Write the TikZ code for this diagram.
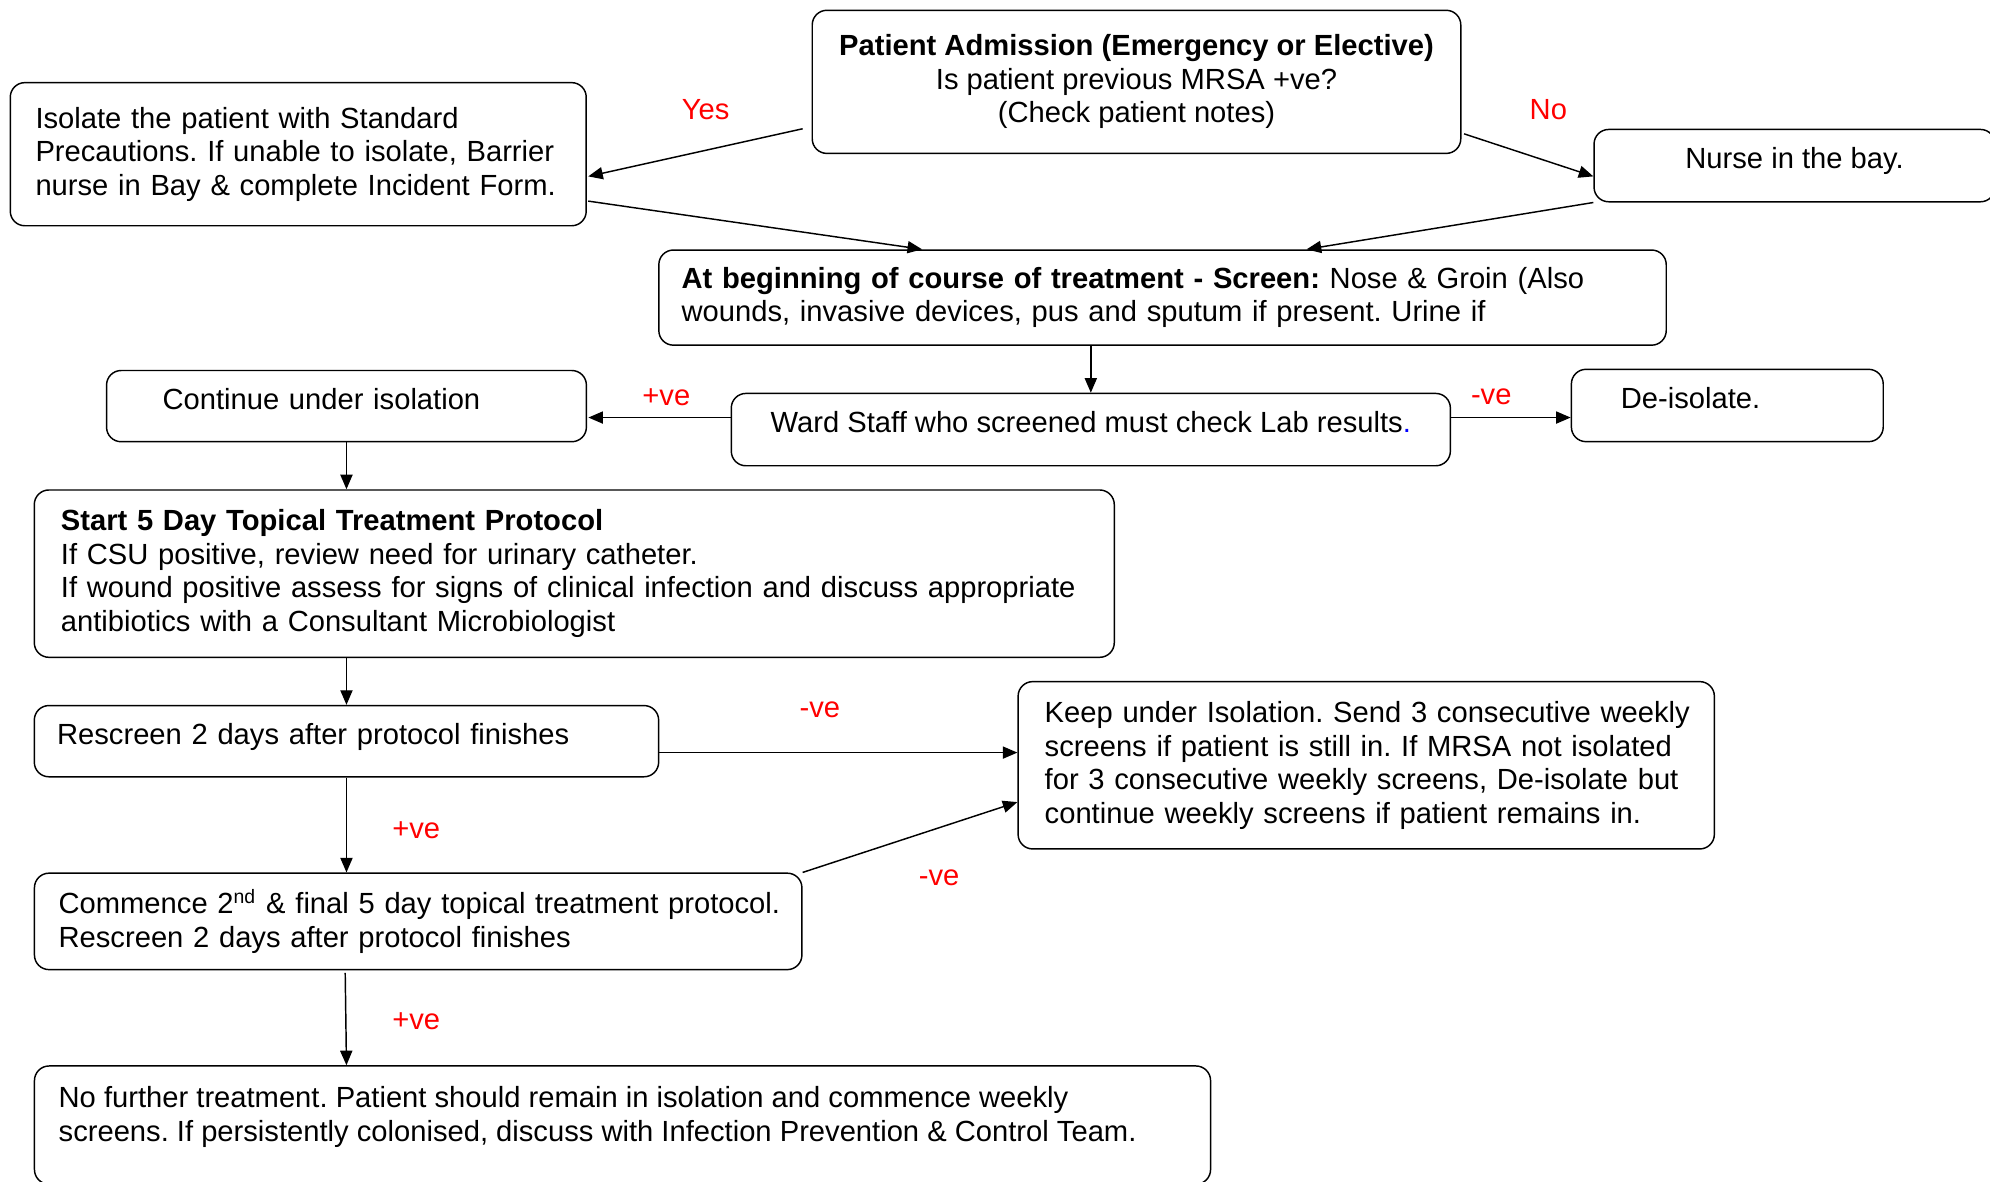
\documentclass[tikz,border=0pt]{standalone}
\usepackage{fontspec}
\setmainfont{Liberation Sans}
\usepackage{tikz}
\usetikzlibrary{arrows.meta,positioning,calc}
\definecolor{ink}{HTML}{000000}
\definecolor{markred}{HTML}{FF0000}
\definecolor{dotblue}{HTML}{0000FF}
\frenchspacing
\tikzset{
  box/.style={rectangle, rounded corners=6pt, draw=ink, fill=white, line width=0.6pt,
              align=left, inner sep=0pt, font=\fontsize{12pt}{13.8pt}\selectfont},
  cbox/.style={box, align=center},
  oneline/.style={text height=8.6pt, text depth=6.2pt},
  lbl/.style={font=\fontsize{12pt}{13.8pt}\selectfont, text=markred, inner sep=1pt},
  flow/.style={-{Triangle[length=6pt,width=5pt]}, draw=ink, line width=0.6pt}
}
\begin{document}
\begin{tikzpicture}[x=0.01835cm, y=-0.01835cm]
 \useasboundingbox (0,0) rectangle (1568,931);
 \clip (0,0) rectangle (1568,931);
 % top row
 \node[cbox, minimum width=9.38cm, minimum height=2.07cm] (adm) at (895.5,64.5)
   {\textbf{Patient Admission (Emergency or Elective)}\\Is patient previous MRSA +ve?\\(Check patient notes)};
 \node[box, text width=7.60cm, minimum width=8.33cm, minimum height=2.07cm, yshift=0pt] (iso) at (235,121.5)
   {Isolate the patient with Standard\\\mbox{Precautions. If unable to isolate, Barrier}\\nurse in Bay \& complete Incident Form.};
 \node[cbox, oneline, minimum width=5.80cm, minimum height=1.046cm] (nurse) at (1414,130.5) {Nurse in the bay.};
 \node[box, text width=13.91cm, minimum width=14.57cm, minimum height=1.376cm] (scr) at (916,234.5)
   {\mbox{\textbf{At beginning of course of treatment - Screen:} Nose \& Groin (Also}\\wounds, invasive devices, pus and sputum if present. Urine if};
 % lab results
 \node[box, oneline, text width=5.32cm, minimum width=6.94cm, minimum height=1.03cm] (cont) at (273,320) {Continue under isolation};
 \node[cbox, oneline, minimum width=10.40cm, minimum height=1.046cm] (ward) at (859.5,338.5)
   {Ward Staff who screened must check Lab results\textcolor{dotblue}{.}};
 \node[box, oneline, text width=3.08cm, minimum width=4.51cm, minimum height=1.046cm] (deiso) at (1361,319.5) {De-isolate.};
 % treatment
 \node[box, text width=14.85cm, minimum width=15.62cm, minimum height=2.42cm] (start) at (452.5,452)
   {\textbf{Start 5 Day Topical Treatment Protocol}\\If CSU positive, review need for urinary catheter.\\
    \mbox{If wound positive assess for signs of clinical infection and discuss appropriate}\\antibiotics with a Consultant Microbiologist};
 \node[box, oneline, text width=8.37cm, minimum width=9.03cm, minimum height=1.03cm] (resc) at (273,584) {Rescreen 2 days after protocol finishes};
 \node[box, text width=9.30cm, minimum width=10.07cm, minimum height=2.42cm] (keep) at (1076.5,603)
   {\mbox{Keep under Isolation. Send 3 consecutive weekly}\\\mbox{screens if patient is still in. If MRSA not isolated}\\
    \mbox{for 3 consecutive weekly screens, De-isolate but}\\\mbox{continue weekly screens if patient remains in.}};
 \node[box, text width=10.40cm, minimum width=11.10cm, minimum height=1.395cm] (comm) at (329.5,726)
   {\mbox{Commence 2\textsuperscript{nd} \& final 5 day topical treatment protocol.}\\Rescreen 2 days after protocol finishes};
 \node[box, minimum width=17.01cm, minimum height=1.71cm, inner ysep=0.30cm] (nofur) at (490.5,886.5)
   {\parbox[c][1.11cm][t]{16.31cm}{\raggedright No further treatment. Patient should remain in isolation and commence weekly\\
    \mbox{screens. If persistently colonised, discuss with Infection Prevention \& Control Team.}}};
 % labels
 \node[lbl] (lyes) at (556,86) {Yes};
 \node[lbl] (lno) at (1220,86) {No};
 \node[lbl] (lpos1) at (525,313) {+ve};
 \node[lbl] (lneg1) at (1175,313) {-ve};
 \node[lbl] (lneg2) at (646,559) {-ve};
 \node[lbl] (lpos2) at (328,654) {+ve};
 \node[lbl] (lneg3) at (740,692) {-ve};
 \node[lbl] (lpos3) at (328,805) {+ve};
 % connectors
 \draw[flow]([shift={(-7,-20)}]adm.south west)--([shift={(1,17.5)}]iso.east);
 \draw[flow]([shift={(2,-16)}]adm.south east)--([shift={(0,8.5)}]nurse.west);
 \draw[flow]([shift={(1,-20)}]iso.south east)--([shift={(208,0)}]scr.north west);
 \draw[flow](nurse.south west)--([shift={(511,0)}]scr.north west);
 \draw[flow](scr.south -| ward.north)--(ward.north);
 \draw[flow]([shift={(0,-9.5)}]ward.west)--([shift={(1,9)}]cont.east);
 \draw[flow]([shift={(0,-9.5)}]ward.east)--([shift={(0,9.5)}]deiso.west);
 \draw[flow](cont.south)--(cont.south |- start.north);
 \draw[flow](resc.north |- start.south)--(resc.north);
 \draw[flow]([shift={(0,9)}]resc.east)--([shift={(0,-10)}]keep.west);
 \draw[flow](resc.south)--(resc.south |- comm.north);
 \draw[flow](comm.north east)--([shift={(0,29)}]keep.west);
 \draw[flow]([shift={(-1,2)}]resc.south |- comm.south)--(resc.south |- nofur.north);
\end{tikzpicture}
\end{document}
